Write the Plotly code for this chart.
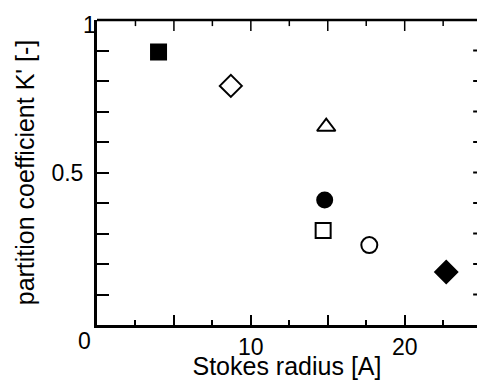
import plotly.graph_objects as go

# Data
stokes_radius = [4.0, 8.7, 14.9, 14.8, 14.7, 17.7, 22.7]
partition_coef = [0.895, 0.784, 0.650, 0.410, 0.310, 0.262, 0.174]
marker_symbols = ["square", "diamond-open", "triangle-up-open", "circle",
                  "square-open", "circle-open", "diamond"]
marker_sizes = [15, 17, 16, 15, 15, 16, 17]

x_tick_vals = [0, 5, 10, 15, 20]
x_tick_text = ["", "", "10", "", "20"]
x_minor_vals = [2.5, 7.5, 12.5, 17.5, 22.5]
y_tick_vals = [0.5]
y_tick_text = ["0.5"]
y_minor_vals = [0.1, 0.2, 0.3, 0.4, 0.5, 0.6, 0.7, 0.8, 0.9]
corner_labels = {"x0": "0", "y1": "1"}

FONT = "Liberation Sans, Arial, Helvetica, sans-serif"
XR = [0, 24.7]
YR = [0, 1]

fig = go.Figure()
fig.add_trace(go.Scatter(
    x=stokes_radius, y=partition_coef, mode="markers",
    marker=dict(symbol=marker_symbols, size=marker_sizes, color="black",
                opacity=1, line=dict(color="black", width=2)),
    showlegend=False, hoverinfo="x+y"))

fig.update_layout(
    width=477, height=380,
    margin=dict(l=97, r=0, t=20, b=55),
    paper_bgcolor="white", plot_bgcolor="white",
    font=dict(family=FONT, size=23, color="black"),
    xaxis=dict(range=XR, showgrid=False, zeroline=False, automargin=False,
               showline=True, linecolor="black", linewidth=2.5,
               ticks="inside", ticklen=10, tickwidth=1.5, tickcolor="black",
               tickvals=x_tick_vals, ticktext=x_tick_text,
               minor=dict(dtick=2.5, tick0=0, ticks="inside", ticklen=5,
                          tickwidth=1.5, tickcolor="black"),
               tickfont=dict(size=23), ticklabelstandoff=0,
               title=dict(text="Stokes radius [A]", standoff=0,
                          font=dict(size=25))),
    yaxis=dict(range=YR, showgrid=False, zeroline=False, automargin=False,
               showline=True, linecolor="black", linewidth=3,
               ticks="inside", ticklen=12, tickwidth=1.5, tickcolor="black",
               tickvals=y_tick_vals, ticktext=y_tick_text,
               minor=dict(dtick=0.1, tick0=0, ticks="inside", ticklen=12,
                          tickwidth=1.5, tickcolor="black"),
               tickfont=dict(size=23), ticklabelstandoff=6,
               title=dict(text="partition coefficient K' [-]", standoff=10,
                          font=dict(size=25))),
)

# top frame line
fig.add_shape(type="line", xref="paper", yref="paper", x0=0, x1=1, y0=1, y1=1,
              line=dict(color="black", width=2.5))
# top ticks (major and minor), placed through the x scale
for v in x_tick_vals[1:]:
    fig.add_shape(type="line", xref="x", yref="y", x0=v, x1=v,
                  y0=YR[1], y1=YR[1] - 0.036, line=dict(color="black", width=1.5))
for v in x_minor_vals:
    fig.add_shape(type="line", xref="x", yref="y", x0=v, x1=v,
                  y0=YR[1], y1=YR[1] - 0.02, line=dict(color="black", width=1.5))
# short right-hand ticks, placed through the y scale
for v in y_minor_vals:
    fig.add_shape(type="line", xref="x", yref="y", x0=XR[1] - 0.25, x1=XR[1],
                  y0=v, y1=v, line=dict(color="black", width=2))

fig.add_annotation(text=corner_labels["x0"], xref="paper", yref="paper",
                   x=-0.032, y=-0.052, showarrow=False, font=dict(size=23),
                   xanchor="center", yanchor="middle")
fig.add_annotation(text=corner_labels["y1"], xref="paper", yref="paper",
                   x=-0.02, y=0.985, showarrow=False, font=dict(size=23),
                   xanchor="center", yanchor="middle")

fig.write_html("out.html", config={"displayModeBar": False},
               post_script="document.body.style.margin='0';"
                           "document.body.style.overflow='hidden';")
